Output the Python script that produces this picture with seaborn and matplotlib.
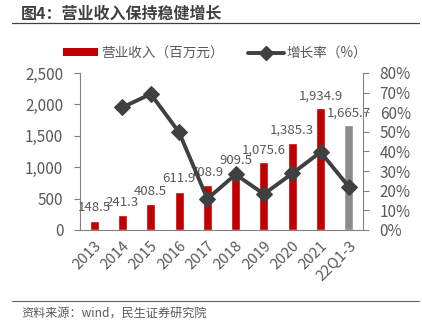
import numpy as np
import pandas as pd
import matplotlib
matplotlib.use("Agg")
import matplotlib.pyplot as plt
import seaborn as sns
from matplotlib.lines import Line2D
from matplotlib.patches import Patch
from matplotlib.ticker import FuncFormatter, MultipleLocator

categories = ["2013", "2014", "2015", "2016", "2017", "2018", "2019", "2020", "2021", "22Q1-3"]
revenue = [148.5, 241.3, 408.5, 611.9, 708.9, 909.5, 1075.6, 1385.3, 1934.9, 1665.7]
growth_categories = categories[1:]
growth = [62.5, 69.3, 49.8, 15.9, 28.3, 18.3, 28.8, 39.7, 22.0]
bar_colors = ["#C00000"] * 9 + ["#8C8C8C"]

title = "图4：营业收入保持稳健增长"
source = "资料来源：wind，民生证券研究院"
legend_labels = ["营业收入（百万元）", "增长率（%）"]

sns.set_theme(style="white")
plt.rcParams["font.family"] = ["Noto Sans CJK SC", "DejaVu Sans"]

TXT = "#595959"
fig = plt.figure(figsize=(4.22, 3.28), dpi=100)
ax = fig.add_axes([80 / 422, 1 - 230 / 328, 283 / 422, 157 / 328])

df = pd.DataFrame({"cat": categories, "rev": revenue})
sns.barplot(data=df, x="cat", y="rev", hue="cat", palette=bar_colors,
            legend=False, width=0.32, ax=ax, saturation=1)
ax.set_xlim(-0.5, len(categories) - 0.5)
ax.set_ylim(0, 2500)
ax.yaxis.set_major_locator(MultipleLocator(500))
ax.yaxis.set_major_formatter(FuncFormatter(lambda v, p: f"{v:,.0f}"))
ax.set_xlabel("")
ax.set_ylabel("")
ax.set_xticks(np.arange(len(categories)))
ax.set_xticklabels(categories, rotation=45, ha="right", rotation_mode="anchor",
                   fontsize=10.8, color=TXT)
ax.set_xticks(np.arange(len(categories) + 1) - 0.5, minor=True)
ax.tick_params(axis="x", which="major", length=0, pad=6)
ax.tick_params(axis="x", which="minor", length=4, width=0.8, color="#808080", direction="out")
ax.tick_params(axis="y", labelsize=11, labelcolor=TXT, length=4, width=0.8, pad=8,
               color="#808080", direction="out", left=True)

for i, v in enumerate(revenue):
    ax.annotate(f"{v:,.1f}", (i, v), xytext=(0, 4.5), textcoords="offset points",
                ha="center", va="bottom", fontsize=9.5, color=TXT)

for s in ["top", "right"]:
    ax.spines[s].set_visible(False)
for s in ["left", "bottom"]:
    ax.spines[s].set_color("#808080")
    ax.spines[s].set_linewidth(0.8)

ax2 = ax.twinx()
gx = np.arange(1, len(categories))
sns.lineplot(x=gx, y=growth, ax=ax2, color="#404040", linewidth=2.8,
             marker="D", markersize=8, markeredgecolor="#404040", sort=False)
ax2.set_ylim(0, 80)
ax2.yaxis.set_major_locator(MultipleLocator(10))
ax2.yaxis.set_major_formatter(FuncFormatter(lambda v, p: f"{v:.0f}%"))
ax2.tick_params(axis="y", labelsize=11, labelcolor=TXT, length=4, width=0.8, pad=8,
                color="#808080", direction="out", right=True)
ax2.set_ylabel("")
for s in ["top", "left", "bottom"]:
    ax2.spines[s].set_visible(False)
ax2.spines["right"].set_color("#808080")
ax2.spines["right"].set_linewidth(0.8)
ax.set_xlim(-0.5, len(categories) - 0.5)

handles = [Patch(facecolor="#C00000", edgecolor="none"),
           Line2D([0], [0], color="#404040", lw=2.8, marker="D", markersize=7)]
fig.legend(handles, legend_labels, loc="center", bbox_to_anchor=(215 / 422, 1 - 53 / 328),
           ncol=2, frameon=False, fontsize=9.8, labelcolor=TXT, handlelength=2.6,
           handleheight=0.5, handletextpad=0.2, columnspacing=1.8)

fig.text(21 / 422, 1 - 14 / 328, title, fontsize=11.5, fontweight="bold",
         color="#404040", va="center", ha="left")
fig.add_artist(Line2D([12 / 422, 419 / 422], [1 - 23 / 328] * 2, color="#404040", lw=0.9))
fig.add_artist(Line2D([12 / 422, 419 / 422], [1 - 301 / 328] * 2, color="#606060", lw=0.8))
fig.text(21 / 422, 1 - 314 / 328, source, fontsize=8.7, color=TXT, va="center", ha="left")

fig.savefig("out.png", dpi=100)
